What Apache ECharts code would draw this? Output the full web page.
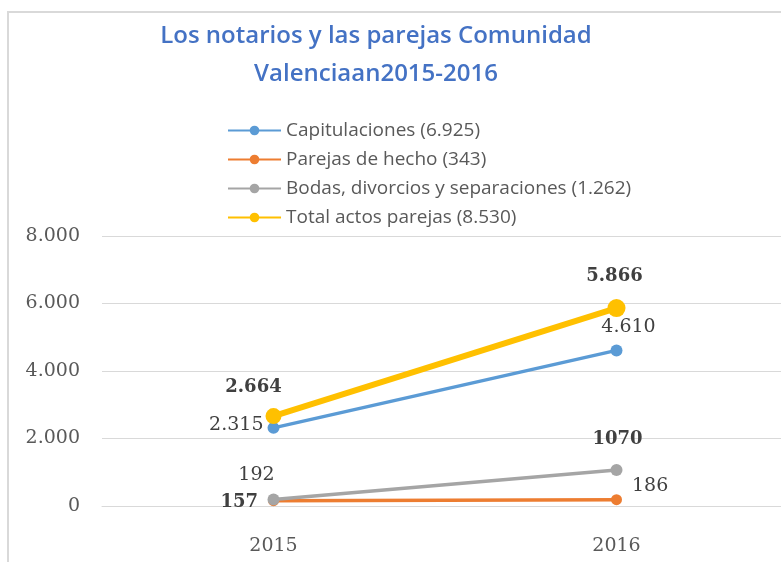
<!DOCTYPE html>
<html><head><meta charset="utf-8">
<script src="https://cdn.jsdelivr.net/npm/echarts@6/dist/echarts.min.js"></script>
<style>html,body{margin:0;padding:0;background:#fff}#c{width:781px;height:562px}</style>
</head><body><div id="c"></div>
<script>
var categories = ['2015', '2016'];
var seriesNames = ['Capitulaciones (6.925)', 'Parejas de hecho (343)', 'Bodas, divorcios y separaciones (1.262)', 'Total actos parejas (8.530)'];
var capitulaciones = [2315, 4610];
var parejasHecho = [157, 186];
var bodas = [192, 1070];
var totalActos = [2664, 5866];
var labelTexts = [['2.315', '4.610'], ['157', '186'], ['192', '1070'], ['2.664', '5.866']];
var yTicks = [0, 2000, 4000, 6000, 8000];

var colors = ['#5B9BD5', '#ED7D31', '#A5A5A5', '#FFC000'];
var serif = '"DejaVu Serif", serif';
var sans = '"Open Sans", Lato, sans-serif';

function fmt(v) { return String(v).replace(/\B(?=(\d{3})+(?!\d))/g, '.'); }

var labelCfg = [
  [{ position: 'left', dist: 4, bold: false, off: [0, -3] }, { position: 'top', dist: 8, bold: false, off: [12, 0] }],
  [{ position: 'left', dist: 10, bold: true, off: [0, 2] }, { position: 'right', dist: 10, bold: false, off: [0, -14] }],
  [{ position: 'top', dist: 9, bold: false, off: [-17, 0] }, { position: 'top', dist: 16, bold: true, off: [1, 0] }],
  [{ position: 'top', dist: 12, bold: true, off: [-20, 0] }, { position: 'top', dist: 14, bold: true, off: [-2, 0] }]
];
var allValues = [capitulaciones, parejasHecho, bodas, totalActos];
var widths = [3.5, 3.5, 3.5, 6];
var symSizes = [[12, 12], [11, 11], [12, 12], [16, 18]];

var series = allValues.map(function (vals, s) {
  return {
    name: seriesNames[s],
    type: 'line',
    data: vals.map(function (v, i) {
      var c = labelCfg[s][i];
      return {
        value: v,
        symbolSize: symSizes[s][i],
        label: {
          show: true, position: c.position, distance: c.dist, offset: c.off,
          formatter: labelTexts[s][i],
          fontFamily: serif, fontSize: c.bold ? 18 : 19, color: '#404040',
          fontWeight: c.bold ? 'bold' : 'normal'
        }
      };
    }),
    symbol: 'circle',
    lineStyle: { width: widths[s], color: colors[s] },
    itemStyle: { color: colors[s] },
    z: 2 + s,
    animation: false
  };
});

var chart = echarts.init(document.getElementById('c'));
chart.setOption({
  animation: false,
  color: colors,
  title: {
    text: 'Los notarios y las parejas Comunidad\nValenciaan2015-2016',
    left: 371, top: 12, textAlign: 'center',
    textStyle: { fontFamily: sans, fontSize: 24, fontWeight: 600, color: '#4472C4', lineHeight: 38 }
  },
  graphic: [{
    type: 'rect', shape: { x: 8, y: 12, width: 800, height: 600 },
    style: { fill: 'none', stroke: '#D9D9D9', lineWidth: 2 }, silent: true, z: -1
  }],
  legend: {
    orient: 'vertical', left: 222, top: 116, itemWidth: 53, itemHeight: 12, itemGap: 10,
    textStyle: { fontFamily: sans, fontSize: 19, color: '#595959' },
    data: seriesNames
  },
  grid: { left: 102, width: 686, top: 236, bottom: 56, outerBoundsMode: 'none', containLabel: false },
  xAxis: {
    type: 'category', data: categories, boundaryGap: true,
    axisLine: { show: true, lineStyle: { color: '#D9D9D9' } },
    axisTick: { show: false },
    axisLabel: { fontFamily: serif, fontSize: 19, color: '#595959', margin: 31 }
  },
  yAxis: {
    type: 'value', min: yTicks[0], max: yTicks[yTicks.length - 1], interval: yTicks[1] - yTicks[0],
    axisLine: { show: false }, axisTick: { show: false },
    splitLine: { lineStyle: { color: '#D9D9D9' } },
    axisLabel: { fontFamily: serif, fontSize: 19, color: '#595959', margin: 22, formatter: function (v) { return fmt(v); } }
  },
  series: series
});
</script>
</body></html>
